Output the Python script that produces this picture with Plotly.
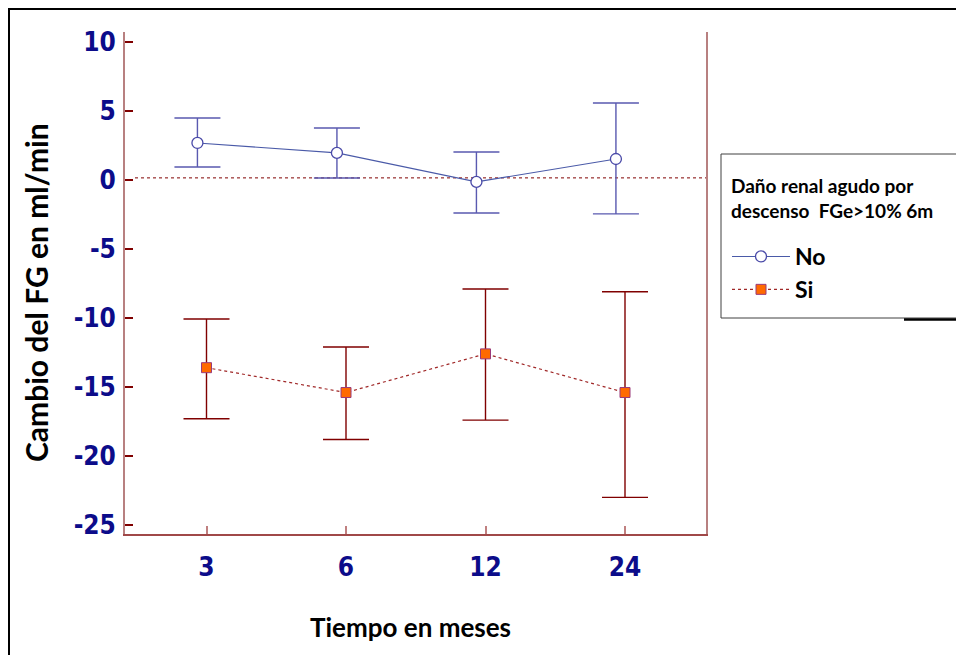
import plotly.graph_objects as go

# ---- data ----
months = ["3", "6", "12", "24"]

no_mean = [2.68, 1.96, -0.14, 1.52]
no_upper = [4.49, 3.77, 2.03, 5.58]
no_lower = [0.94, 0.14, -2.39, -2.46]

si_mean = [-13.6, -15.4, -12.6, -15.4]
si_upper = [-10.07, -12.1, -7.9, -8.1]
si_lower = [-17.3, -18.8, -17.4, -23.0]

ref_line = 0.15
y_ticks = [10, 5, 0, -5, -10, -15, -20, -25]
y_tick_text = [str(v) for v in y_ticks]

legend_title = "Daño renal agudo por<br>descenso  FGe>10% 6m"

# ---- layout helpers ----
pos = list(range(len(months)))
dodge_no = -0.065
x_no = [p + dodge_no for p in pos]
x_si = pos

OFF = 8  # page body margin
W, H = 964, 655
ML = 125 - OFF
MT = 32 - OFF
MB = H - (534 - OFF)
MR = W - (706 - OFF)
PW, PH = W - ML - MR, H - MT - MB


def px_x(px):
    return (px - OFF - ML) / PW


def px_y(py):
    return (H - MB - (py - OFF)) / PH


X3, STEP = 206.5, 139.5
x_left = (125 - X3) / STEP
x_right = (706 - X3) / STEP

navy = "#0c0c8a"
blue = "#4a4aa8"
maroon = "#800000"
tick_font = dict(family="DejaVu Sans Condensed", size=26, color=navy, weight="bold")

fig = go.Figure()

fig.add_trace(go.Scatter(
    x=x_no, y=no_mean, name="No", mode="lines+markers",
    line=dict(color="#4a5aa8", width=1.1),
    marker=dict(symbol="circle", size=11, color="white",
                line=dict(color=blue, width=1.3)),
    error_y=dict(type="data", symmetric=False,
                 array=[u - m for u, m in zip(no_upper, no_mean)],
                 arrayminus=[m - l for m, l in zip(no_mean, no_lower)],
                 color="#5a5ab0", thickness=1.4, width=23),
))

fig.add_trace(go.Scatter(
    x=x_si, y=si_mean, name="Si", mode="lines+markers",
    line=dict(color="#a02828", width=1.2, dash="dot"),
    marker=dict(symbol="square", size=10, color="#ff6a00",
                line=dict(color="#9a3a7a", width=1)),
    error_y=dict(type="data", symmetric=False,
                 array=[u - m for u, m in zip(si_upper, si_mean)],
                 arrayminus=[m - l for m, l in zip(si_mean, si_lower)],
                 color=maroon, thickness=1.4, width=23),
))

fig.update_layout(
    width=W, height=H,
    margin=dict(l=ML, r=MR, t=MT, b=MB, pad=0),
    paper_bgcolor="white", plot_bgcolor="white",
    showlegend=True,
    legend=dict(
        x=px_x(727), y=px_y(235), xanchor="left", yanchor="top",
        bgcolor="rgba(0,0,0,0)", borderwidth=0,
        font=dict(family="Lato", size=23, color="black", weight="bold"),
        tracegroupgap=0, itemwidth=58,
    ),
    xaxis=dict(
        range=[x_left, x_right],
        tickvals=pos, ticktext=months,
        showgrid=False, zeroline=False,
        showline=True, linecolor="#a04848", linewidth=1.5,
        ticks="inside", ticklen=8, tickcolor="#c08080", tickwidth=1.5,
        tickfont=tick_font,
        ticklabelstandoff=9,
    ),
    yaxis=dict(
        range=[-25.65, 10.72],
        tickvals=y_ticks, ticktext=y_tick_text,
        showgrid=False, zeroline=False,
        showline=True, linecolor="#b88080", linewidth=1.8, mirror=True,
        ticks="inside", ticklen=8, tickcolor=maroon, tickwidth=1.5,
        tickfont=tick_font,
        ticklabelstandoff=2,
    ),
    shapes=[
        dict(type="line", xref="x", yref="y",
             x0=(135 - X3) / STEP, x1=x_right,
             y0=ref_line, y1=ref_line,
             line=dict(color=maroon, width=1, dash="dot"), layer="below"),
        dict(type="rect", xref="paper", yref="paper",
             x0=px_x(9), x1=px_x(985), y0=px_y(680), y1=px_y(9),
             line=dict(color="black", width=2)),
        dict(type="rect", xref="paper", yref="paper",
             x0=px_x(721), x1=px_x(985), y0=px_y(318), y1=px_y(154),
             line=dict(color="#404040", width=1)),
        dict(type="line", xref="paper", yref="paper",
             x0=px_x(904), x1=px_x(985), y0=px_y(319.5), y1=px_y(319.5),
             line=dict(color="black", width=2.5)),
    ],
    annotations=[
        dict(text=legend_title, xref="paper", yref="paper",
             x=px_x(729), y=px_y(197.5), showarrow=False, align="left",
             font=dict(family="Lato", size=19, color="black", weight="bold"),
             xanchor="left", yanchor="middle"),
        dict(text="Cambio del FG en ml/min", xref="paper", yref="paper",
             x=px_x(36), y=px_y(293), textangle=-90, showarrow=False,
             font=dict(family="Lato", size=30, color="black", weight="bold"),
             xanchor="center", yanchor="middle"),
        dict(text="Tiempo en meses", xref="paper", yref="paper",
             x=px_x(410), y=px_y(627), showarrow=False,
             font=dict(family="Lato", size=26, color="black", weight="bold"),
             xanchor="center", yanchor="middle"),
    ],
)

fig.write_html("out.html")
